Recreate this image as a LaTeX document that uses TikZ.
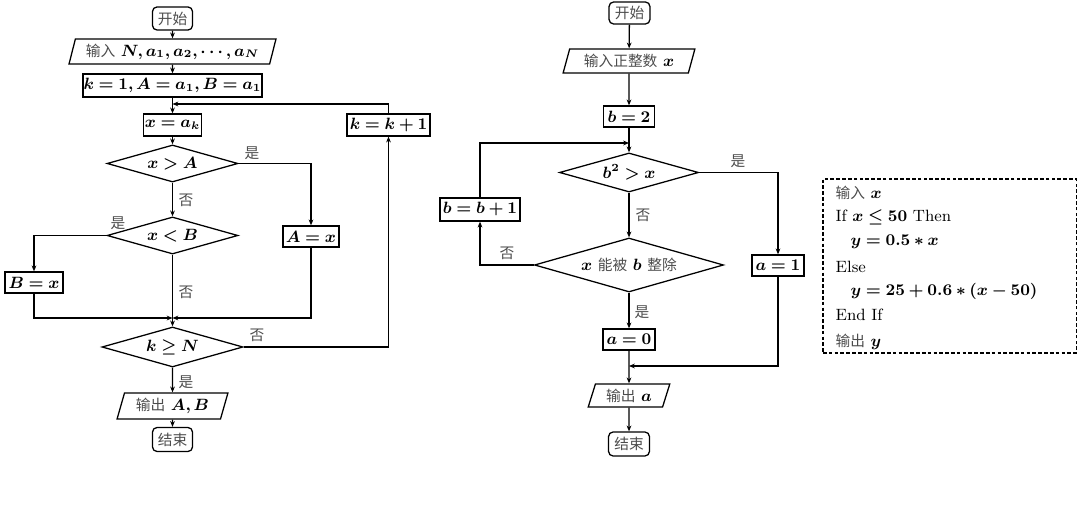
\documentclass[tikz,border=0pt]{standalone}
\usepackage{fontspec}
\usepackage{amsmath,bm}
\newfontfamily\cjk{Noto Sans CJK SC}[Scale=0.9]
\usetikzlibrary{shapes.geometric,arrows.meta}
\newcommand{\zh}[1]{{\cjk\color{black!70}#1}}
\begin{document}
\begin{tikzpicture}[x=0.55pt,y=-0.55pt, line width=0.7pt,
  every node/.style={font=\fontsize{9}{11}\selectfont},
  box/.style={draw, rectangle, inner sep=0pt},
  term/.style={draw, rounded corners=2.5pt, inner sep=0pt},
  io/.style={draw, trapezium, trapezium left angle=70, trapezium right angle=110, trapezium stretches=true, inner sep=0pt},
  dec/.style={draw, diamond, inner sep=0pt, shape aspect=3.5},
  arr/.style={-{Stealth[length=3.2pt,width=2.6pt]}},
  lab/.style={inner sep=0pt, font=\fontsize{9}{11}\selectfont\cjk, text=black!70},
  code/.style={anchor=west, inner sep=0pt}
]
\useasboundingbox (0,0) rectangle (1080,529);
% ---------- left chart ----------
\node[term, minimum width=22pt, minimum height=12.7pt] (s1) at (172.5,18.5) {\zh{开始}};
\node[io, minimum width=113.9pt, minimum height=13.75pt] (in1) at (172.5,51.5) {\zh{输入} $\bm{N,a_1,a_2,\cdots\,,a_N}$};
\node[box, minimum width=98.5pt, minimum height=12.65pt] (init) at (172.5,85.5) {$\bm{k=1,A=a_1,B=a_1}$};
\node[box, minimum width=31.9pt, minimum height=12.1pt] (xak) at (172.5,125) {$\bm{x=a_k}$};
\node[box, minimum width=45.6pt, minimum height=12.1pt] (kk1) at (388.5,125) {$\bm{k=k+1}$};
\node[dec, minimum width=72pt, minimum height=20.4pt] (d1) at (172.5,163.5) {$\bm{x>A}$};
\node[dec, minimum width=72pt, minimum height=20.4pt] (d2) at (172.5,235.5) {$\bm{x<B}$};
\node[box, minimum width=30.8pt, minimum height=11.6pt] (Ax) at (311,236.5) {$\bm{A=x}$};
\node[box, minimum width=31.9pt, minimum height=11.6pt] (Bx) at (34,282.5) {$\bm{B=x}$};
\node[dec, minimum width=77.6pt, minimum height=22pt] (d3) at (172.5,347) {$\bm{k\ge N}$};
\node[io, minimum width=61pt, minimum height=14.3pt] (out1) at (172.5,406) {\zh{输出} $\bm{A,B}$};
\node[term, minimum width=22pt, minimum height=13.2pt] (e1) at (172.5,439.5) {\zh{结束}};
\coordinate (m1) at (172.5,318);
\coordinate (m2) at (172.5,104);

\draw[arr] (s1) -- (in1);
\draw[arr] (in1) -- (init);
\draw[arr] (init) -- (xak);
\draw[arr] (xak) -- (d1);
\draw[arr] (d1.east) -| (Ax);
\node[lab] at (252,153) {是};
\draw[arr] (d1) -- (d2);
\node[lab] at (186,200) {否};
\draw[arr] (d2.west) -| (Bx);
\node[lab] at (118,223) {是};
\draw[arr] (d2) -- (d3);
\node[lab] at (186,292) {否};
\draw[arr] (Bx) |- (m1);
\draw[arr] (Ax) |- (m1);
\draw[arr] (d3) -- (out1);
\node[lab] at (186,382) {是};
\draw[arr] (out1) -- (e1);
\draw[arr] (d3.east) -| (kk1);
\node[lab] at (257,335) {否};
\draw[arr] (kk1.north) |- (m2);

% ---------- right chart ----------
\node[term, minimum width=22.5pt, minimum height=12.1pt] (s2) at (629.5,13) {\zh{开始}};
\node[io, minimum width=72.6pt, minimum height=13.2pt] (in2) at (629,61) {\zh{输入正整数} $\bm{x}$};
\node[box, minimum width=28pt, minimum height=11.6pt] (b2) at (629,116.5) {$\bm{b=2}$};
\node[dec, minimum width=76.5pt, minimum height=21.5pt] (d4) at (629,172.5) {$\bm{b^2>x}$};
\node[box, minimum width=44pt, minimum height=12.7pt] (bb1) at (480,209.5) {$\bm{b=b+1}$};
\node[dec, minimum width=104pt, minimum height=29.7pt] (d5) at (629,265) {$\bm{x}$ \zh{能被} $\bm{b}$ \zh{整除}};
\node[box, minimum width=28.6pt, minimum height=11.6pt] (a1) at (778,265.5) {$\bm{a=1}$};
\node[box, minimum width=28.6pt, minimum height=11.6pt] (a0) at (629,339.5) {$\bm{a=0}$};
\node[io, minimum width=45pt, minimum height=12.7pt] (out2) at (629,395.5) {\zh{输出} $\bm{a}$};
\node[term, minimum width=22.5pt, minimum height=13.2pt] (e2) at (629,444) {\zh{结束}};
\coordinate (m3) at (629,143);
\coordinate (m4) at (629,366);

\draw[arr] (s2) -- (in2);
\draw[arr] (in2) -- (b2);
\draw[arr] (b2) -- (d4);
\draw[arr] (bb1) |- (m3);
\draw[arr] (d4.east) -| (a1);
\node[lab] at (738,161) {是};
\draw[arr] (d4) -- (d5);
\node[lab] at (643,215) {否};
\draw[arr] (d5.west) -| (bb1);
\node[lab] at (507,253) {否};
\draw[arr] (d5) -- (a0);
\node[lab] at (642,312) {是};
\draw[arr] (a1) |- (m4);
\draw[arr] (a0) -- (out2);
\draw[arr] (out2) -- (e2);

% ---------- code box ----------
\node[draw, line width=0.6pt, dash pattern=on 2pt off 1.2pt, minimum width=139.2pt, minimum height=95.7pt, inner sep=0pt] (cb) at (949.5,266) {};
\node[code] (c1) at (835,193) {\zh{输入} $\bm{x}$};
\node[code] (c2) at (835,217) {If $\bm{x\le 50}$ Then};
\node[code] (c3) at (850,242) {$\bm{y=0.5*x}$};
\node[code] (c4) at (835,267) {Else};
\node[code] (c5) at (850,291) {$\bm{y=25+0.6*(x-50)}$};
\node[code] (c6) at (835,315) {End If};
\node[code] (c7) at (835,342) {\zh{输出} $\bm{y}$};
\end{tikzpicture}
\end{document}
